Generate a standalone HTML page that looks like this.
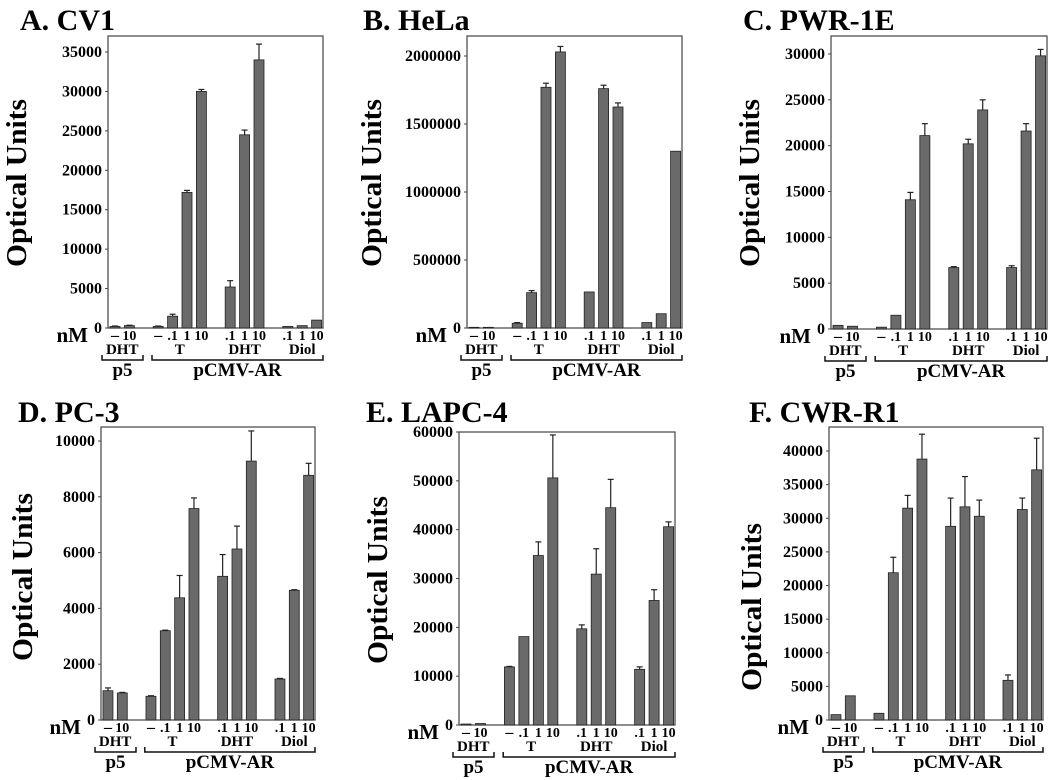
<!DOCTYPE html>
<html><head><meta charset="utf-8">
<style>
html,body{margin:0;padding:0;background:#fff;}
svg{display:block;}
svg text{font-family:"Liberation Serif","Times New Roman",Times,serif;font-weight:bold;}
</style></head>
<body>
<svg id="fig" width="1050" height="780" viewBox="0 0 1050 780" xmlns="http://www.w3.org/2000/svg"></svg>
<script>
// ---- data ----
const barLabels = ["-","10","-",".1","1","10",".1","1","10",".1","1","10"];
const groupNames = ["DHT","T","DHT","Diol"];
const panelTitles = ["A. CV1","B. HeLa","C. PWR-1E","D. PC-3","E. LAPC-4","F. CWR-R1"];
const valuesA = [200,300,200,1500,17200,30000,5200,24500,34000,200,300,1000];
const errorsA = [50,50,50,250,250,250,800,600,2000,0,0,0];
const valuesB = [5000,5000,35000,260000,1770000,2030000,265000,1760000,1625000,40000,105000,1300000];
const errorsB = [0,0,5000,15000,30000,40000,0,25000,30000,0,0,0];
const valuesC = [400,300,200,1500,14100,21100,6700,20200,23900,6700,21600,29800];
const errorsC = [0,0,0,0,800,1300,100,500,1100,200,800,700];
const valuesD = [1050,970,850,3200,4380,7580,5150,6130,9280,1470,4650,8770];
const errorsD = [100,20,20,20,800,380,780,820,1080,20,20,430];
const valuesE = [200,300,11900,18100,34700,50600,19700,30900,44500,11400,25500,40600];
const errorsE = [0,0,100,0,2800,8800,800,5200,5800,500,2200,1000];
const valuesF = [800,3600,1000,21900,31500,38800,28800,31700,30300,5900,31300,37200];
const errorsF = [0,0,0,2300,1900,3700,4200,4500,2400,800,1700,4700];
const tickStepA=5000, tickMaxA=35000;
const tickStepB=500000, tickMaxB=2000000;
const tickStepC=5000, tickMaxC=30000;
const tickStepD=2000, tickMaxD=10000;
const tickStepE=10000, tickMaxE=60000;
const tickStepF=5000, tickMaxF=40000;
// ---- layout (pixels) ----
const layouts = [
 {l:108,t:36,r:323,b:328,topPx:52,tx:20,ty:30,ax:17,ay:183},
 {l:467,t:36,r:682,b:328,topPx:56,tx:363,ty:30,ax:372,ay:183},
 {l:831,t:36,r:1047,b:329,topPx:54,tx:743,ty:30,ax:750,ay:183},
 {l:101,t:427,r:315,b:720,topPx:441,tx:18,ty:422,ax:23,ay:577},
 {l:459,t:432,r:675,b:725,topPx:432,tx:366,ty:422,ax:378,ay:580},
 {l:829,t:427,r:1043,b:720,topPx:451,tx:749,ty:422,ax:752,ay:607}
];
const slots=[0,1,3,4,5,6,8,9,10,12,13,14];
const panels=[
 [valuesA,errorsA,tickStepA,tickMaxA],[valuesB,errorsB,tickStepB,tickMaxB],
 [valuesC,errorsC,tickStepC,tickMaxC],[valuesD,errorsD,tickStepD,tickMaxD],
 [valuesE,errorsE,tickStepE,tickMaxE],[valuesF,errorsF,tickStepF,tickMaxF]];
const NS="http://www.w3.org/2000/svg";
const FF='"Liberation Serif","Times New Roman",Times,serif';
const svg=document.getElementById('fig');
function mk(tag,attrs,parent,text){const e=document.createElementNS(NS,tag);for(const k in attrs)e.setAttribute(k,attrs[k]);if(text!==undefined){e.textContent=text;e.setAttribute('font-family',FF);e.setAttribute('font-weight','bold');}parent.appendChild(e);return e;}
panels.forEach((p,pi)=>{
 const [vals,errs,step,tmax]=p; const L=layouts[pi];
 const g=mk('g',{},svg);
 
 
 const y=v=>L.b-(L.b-L.topPx)*v/tmax;
 const sw=(L.r-L.l)/215;
 const xs=s=>L.l+(2+14.4*s)*sw;
 const bw=10*sw;
 const t=mk('text',{x:L.tx,y:L.ty,'font-size':30},g,panelTitles[pi]);
 
 
 const at=mk('text',{x:0,y:0,'font-size':28,'text-anchor':'middle',transform:`translate(${L.ax+9},${L.ay}) rotate(-90)`,textLength:168,lengthAdjust:'spacingAndGlyphs'},g,'Optical Units');
 
 
 mk('rect',{x:L.l,y:L.t,width:L.r-L.l,height:L.b-L.t,fill:'none',stroke:'#444','stroke-width':1.2},g);
 for(let v=0;v<=tmax+1e-9;v+=step){
  const yy=y(v);
  mk('line',{x1:L.l-3,x2:L.l,y1:yy,y2:yy,stroke:'#444'},g);
  const tl=mk('text',{x:L.l-6,y:yy+5,'font-size':16,'text-anchor':'end'},g,String(v));
  
  
 }
 const nm=mk('text',{x:L.l-20,y:L.b+14,'font-size':21,'text-anchor':'end'},g,'nM');
 
 
 vals.forEach((v,i)=>{
  const x=xs(slots[i]);
  const r=mk('rect',{x:x,y:y(v),width:bw,height:L.b-y(v),fill:'#6a6a6a',stroke:'#222','stroke-width':0.8},g);
  
  
  if(errs[i]>0){
   const cx=x+bw/2, ye=y(v+errs[i]);
   mk('line',{x1:cx,x2:cx,y1:y(v),y2:ye,stroke:'#222','stroke-width':1.2},g);
   mk('line',{x1:cx-3,x2:cx+3,y1:ye,y2:ye,stroke:'#222','stroke-width':1.2},g);
  }
  const bl=mk('text',{x:x+bw/2,y:L.b+12,'font-size':barLabels[i]==='-'?16:14,'text-anchor':'middle'},g,barLabels[i]==='-'?'–':barLabels[i]);
  
  
 });
 const grp=[[0,1],[3,6],[8,10],[12,14]];
 grp.forEach((gr,gi)=>{
  const cx=(xs(gr[0])+xs(gr[1])+bw)/2;
  const gl=mk('text',{x:cx,y:L.b+26,'font-size':15,'text-anchor':'middle'},g,groupNames[gi]);
  
  
 });
 const br=[[L.l-6,L.l+35,'p5'],[L.l+44*sw,L.r,'pCMV-AR']];
 br.forEach(b=>{
  mk('path',{d:`M${b[0]},${L.b+27}V${L.b+32}H${b[1]}V${L.b+27}`,fill:'none',stroke:'#111','stroke-width':1.5},g);
  const bt=mk('text',{x:(b[0]+b[1])/2,y:L.b+48,'font-size':19,'text-anchor':'middle'},g,b[2]);
  
  
 });
});
</script>
</body></html>
